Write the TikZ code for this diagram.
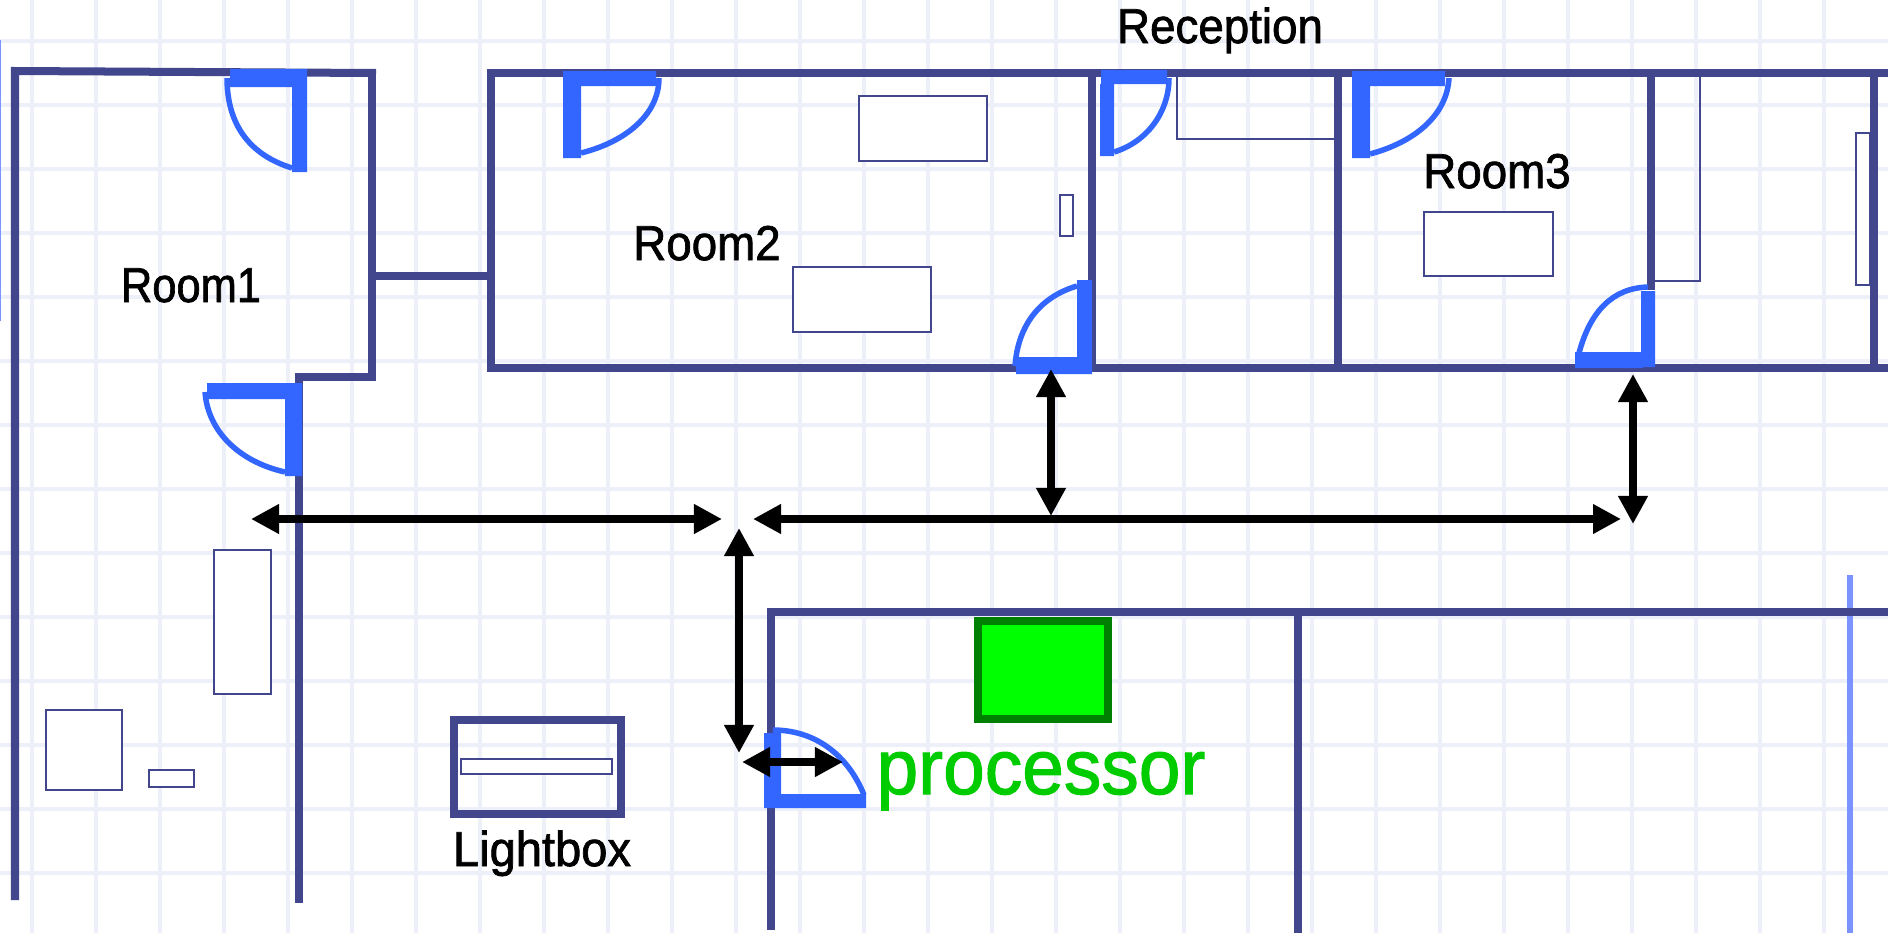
\documentclass[tikz,border=0pt]{standalone}
\usepackage{fontspec}
\setmainfont{Liberation Sans}
\newfontfamily\labelfont{Liberation Sans}[FakeBold=1.5]
\usepackage{xcolor}
\usetikzlibrary{arrows.meta}

\definecolor{wallblue}{HTML}{42468C}
\definecolor{doorblue}{HTML}{3366FF}
\definecolor{paleblue}{HTML}{7B93FF}
\definecolor{gridblue}{HTML}{EDF0F8}

\tikzset{
  wall/.style={wallblue, line width=0.08cm},
  furniture/.style={wallblue, line width=0.02cm},
  doorleaf/.style={doorblue},
  doorswing/.style={doorblue, line width=0.055cm},
  route/.style={black, line width=0.085cm, {Triangle[length=0.28cm,width=0.28cm]}-{Triangle[length=0.28cm,width=0.28cm]}},
  roomlabel/.style={anchor=base, inner sep=0pt, yscale=1.07, transform shape, font=\labelfont\fontsize{13}{15}\selectfont}
}

\begin{document}
\begin{tikzpicture}[x=0.01cm,y=-0.01cm]

        \useasboundingbox (0,0) rectangle (1894,933);
        \fill[white] (0,0) rectangle (1894,933);

        % Grid
        \foreach \k in {0,...,13}
        {
          \draw[gridblue, line width=0.04cm] (0,{41+64*\k}) -- (1888,{41+64*\k});
        }
        \foreach \k in {0,...,28}
        {
          \draw[gridblue, line width=0.04cm] ({32+64*\k},0) -- ({32+64*\k},933);
        }

        % Pale lines
        \draw[paleblue, line width=0.02cm] (0,40) -- (0,321);
        \draw[paleblue, line width=0.06cm] (1850,575) -- (1850,933);

        % Walls
        \draw[wall] (15,900) -- (15,71) -- (376,73);
        \draw[wall] (372,70) -- (372,377) -- (299,377) -- (299,903);
        \draw[wall] (372,276) -- (491,276);
        \draw[wall] (1888,73) -- (491,73) -- (491,368) -- (1888,368);
        \draw[wall] (1092,73) -- (1092,368);
        \draw[wall] (1338,73) -- (1338,368);
        \draw[wall] (1651,73) -- (1651,290);
        \draw[wall] (1874,73) -- (1874,368);
        \draw[wall] (771,930) -- (771,612) -- (1888,612);
        \draw[wall] (1298,612) -- (1298,933);

        % Furniture
        \foreach \xa/\ya/\xb/\yb in {859/96/987/161, 1060/195/1073/236, 793/267/931/332,
            1424/212/1553/276, 1856/133/1870/285, 214/550/271/694, 46/710/122/790, 149/770/194/787}
        {
          \draw[furniture, fill=white] (\xa,\ya) rectangle (\xb,\yb);
        }
        \draw[furniture] (1177,77) -- (1177,139) -- (1334,139);
        \draw[furniture] (1700,77) -- (1700,281) -- (1655,281);

        % Lightbox
        \draw[wall] (454,720) rectangle (621,814);
        \draw[furniture, fill=white] (461,759) rectangle (612,774);

        % Green box
        \draw[fill={rgb,255:red,0;green,255;blue,0}, draw={rgb,255:red,0;green,128;blue,0}, line width=0.08cm] (978,621) rectangle (1108,719);

        % Doors
        \fill[doorleaf] (230,69) rectangle (307,87) (292,69) rectangle (307,172);
        \draw[doorswing] (227,78) .. controls (227,125) and (250,155) .. (292,168);

        \fill[doorleaf] (207,383) rectangle (302,399) (285,383) rectangle (302,476);
        \draw[doorswing] (205,392) .. controls (208,432) and (240,462) .. (285,472);

        \fill[doorleaf] (563,71) rectangle (656,86) (563,71) rectangle (581,158);
        \draw[doorswing] (659,78) .. controls (659,115) and (625,142) .. (581,153);

        \fill[doorleaf] (1101,70) rectangle (1167,84) (1100,84) rectangle (1114,156);
        \draw[doorswing] (1169,78) .. controls (1169,112) and (1147,142) .. (1114,152);

        \fill[doorleaf] (1352,71) rectangle (1445,86) (1352,71) rectangle (1370,158);
        \draw[doorswing] (1449,78) .. controls (1447,115) and (1415,142) .. (1370,154);

        \fill[doorleaf] (1016,357) rectangle (1092,374) (1077,280) rectangle (1092,373);
        \draw[doorswing] (1015,366) .. controls (1018,325) and (1040,297) .. (1077,286);

        \fill[doorleaf] (1575,352) rectangle (1643,368) (1641,291) rectangle (1655,367);
        \draw[doorswing] (1579,353) .. controls (1590,312) and (1612,288) .. (1648,287);

        \fill[doorleaf] (764,733) rectangle (781,808) (781,794) rectangle (866,808);
        \draw[doorswing] (773,730) .. controls (815,730) and (848,755) .. (864,795);

        % Routes
        \coordinate (RoomOneEnd) at (251,519);
        \coordinate (CrossWest) at (722,519);
        \coordinate (CrossEast) at (753,519);
        \coordinate (HallEnd) at (1621,519);
        \coordinate (RoomTwoDoor) at (1051,369);
        \coordinate (HallTwo) at (1051,516);
        \coordinate (RoomThreeDoor) at (1633,374);
        \coordinate (HallThree) at (1633,524);
        \coordinate (CrossSouth) at (739,528);
        \coordinate (ProcDoor) at (739,753);
        \coordinate (ProcIn) at (742,762);
        \coordinate (ProcOut) at (843,762);

        \draw[route] (RoomOneEnd) -- (CrossWest);
        \draw[route] (CrossEast) -- (HallEnd);
        \draw[route] (RoomTwoDoor) -- (HallTwo);
        \draw[route] (RoomThreeDoor) -- (HallThree);
        \draw[route] (CrossSouth) -- (ProcDoor);
        \draw[route] (ProcIn) -- (ProcOut);

        % Labels
        \node[roomlabel, xscale=0.95] (RoomOne) at (191,302) {Room1};
        \node[roomlabel] (RoomTwo) at (707,260) {Room2};
        \node[roomlabel] (RoomThree) at (1497,188) {Room3};
        \node[roomlabel] (Reception) at (1220,43) {Reception};
        \node[roomlabel, xscale=1.03] (Lightbox) at (542,866) {Lightbox};
        \node[anchor=base, inner sep=0pt, yscale=1.04, transform shape, font=\labelfont\fontsize{21.3}{24}\selectfont, text={rgb,255:red,0;green,204;blue,0}] (Processor) at (1041,794) {processor};
    \end{tikzpicture}
\end{document}
